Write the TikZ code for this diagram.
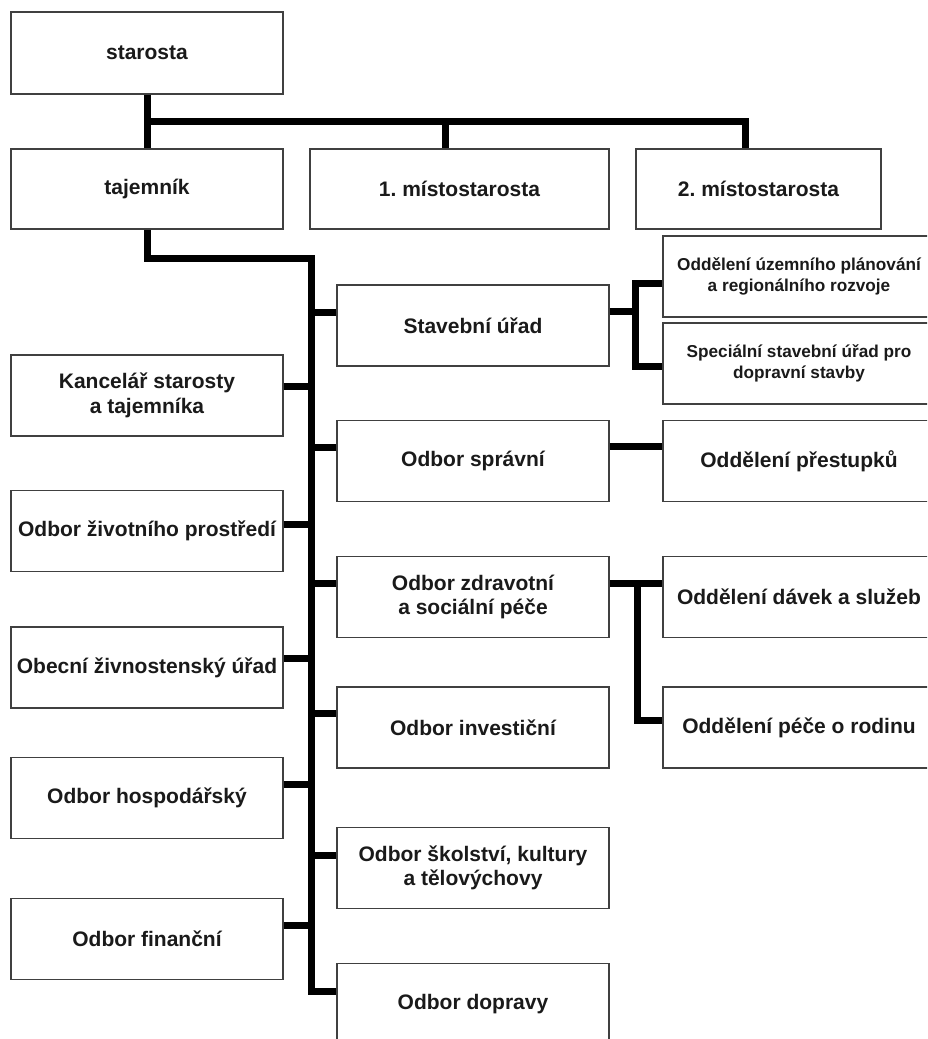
\documentclass[tikz,border=0pt]{standalone}
\usepackage{fontspec}
\setmainfont{Liberation Sans}
\frenchspacing
\definecolor{edge}{HTML}{404040}
\definecolor{ink}{HTML}{1A1A1A}
\begin{document}
\begin{tikzpicture}[x=1pt,y=-1pt,
  box/.style={draw=edge, line width=1.3pt, fill=white, inner sep=0pt, minimum width=272pt, minimum height=81pt,
    align=center, text=ink, font=\bfseries\fontsize{21}{24.5}\selectfont},
  smallbox/.style={box, font=\bfseries\fontsize{17.2}{21}\selectfont},
  conn/.style={line width=7pt, black}]
\useasboundingbox (0,0) rectangle (927,1039);
\clip (0,0) rectangle (927,1039);
\fill[white] (0,0) rectangle (927,1039);

% top level
\node[box, minimum height=82pt] (starosta) at (147,53) {starosta};
\node[box, minimum height=80pt] (tajemnik) at (147,189) {tajemník};
\node[box, minimum height=80pt, minimum width=299pt] (m1) at (459.5,189) {1.\ místostarosta};
\node[box, minimum height=80pt, minimum width=245pt] (m2) at (758.5,189) {2.\ místostarosta};

% middle column
\node[box] (stavebni) at (473,325.5) {Stavební úřad};
\node[box] (spravni) at (473,461) {Odbor správní};
\node[box] (zdrav) at (473,597) {Odbor zdravotní\\a sociální péče};
\node[box] (invest) at (473,727.5) {Odbor investiční};
\node[box] (skol) at (473,868) {Odbor školství, kultury\\a tělovýchovy};
\node[box] (doprava) at (473,1004) {Odbor dopravy};

% left column
\node[box] (kanc) at (147,395.5) {Kancelář starosty\\a tajemníka};
\node[box] (zivot) at (147,531) {Odbor životního prostředí};
\node[box] (obecni) at (147,667.5) {Obecní živnostenský úřad};
\node[box] (hosp) at (147,798) {Odbor hospodářský};
\node[box] (financ) at (147,939) {Odbor finanční};

% right column
\node[smallbox] (uzemni) at (799,276.5) {Oddělení územního plánování\\a regionálního rozvoje};
\node[smallbox] (special) at (799,363.5) {Speciální stavební úřad pro\\dopravní stavby};
\node[box] (prestupky) at (799,461) {Oddělení přestupků};
\node[box] (davky) at (799,597) {Oddělení dávek a služeb};
\node[box] (rodina) at (799,727.5) {Oddělení péče o rodinu};

% connectors top
\coordinate (b1) at (147,121);
\coordinate (b2) at (745,121);
\coordinate (b3) at (445,121);
\draw[conn] (starosta.south) -- (tajemnik.north);
\draw[conn] (b1) -- (b2) -- (b2 |- m2.north);
\draw[conn] (b3) -- (b3 |- m1.north);

% trunk
\coordinate (tk) at (311,258);
\coordinate (te) at (311,991);
\draw[conn] (tajemnik.south) |- (tk) -- (te) -- ([yshift=13pt]doprava.west);

% middle branches
\draw[conn] ([yshift=13.5pt]stavebni.west) -- ++(-26,0);
\draw[conn] ([yshift=14pt]spravni.west) -- ++(-26,0);
\draw[conn] ([yshift=14pt]zdrav.west) -- ++(-26,0);
\draw[conn] ([yshift=14.5pt]invest.west) -- ++(-26,0);
\draw[conn] ([yshift=13pt]skol.west) -- ++(-26,0);

% left branches
\draw[conn] ([yshift=9.5pt]kanc.east) -- ++(28,0);
\draw[conn] ([yshift=7pt]zivot.east) -- ++(28,0);
\draw[conn] ([yshift=9.5pt]obecni.east) -- ++(28,0);
\draw[conn] ([yshift=14pt]hosp.east) -- ++(28,0);
\draw[conn] ([yshift=14pt]financ.east) -- ++(28,0);

% right branches
\draw[conn] ([yshift=14pt]stavebni.east) -- ++(27,0);
\draw[conn] ([yshift=-6.5pt]uzemni.west) -- ++(-27,0) |- ([yshift=-2.5pt]special.west);
\draw[conn] ([yshift=15pt]spravni.east) -- ([yshift=15pt]prestupky.west);
\draw[conn] ([yshift=14pt]zdrav.east) -- ([yshift=14pt]davky.west);
\draw[conn] ([yshift=14pt]zdrav.east) ++(28,0) |- ([yshift=7.5pt]rodina.west);
\end{tikzpicture}
\end{document}
